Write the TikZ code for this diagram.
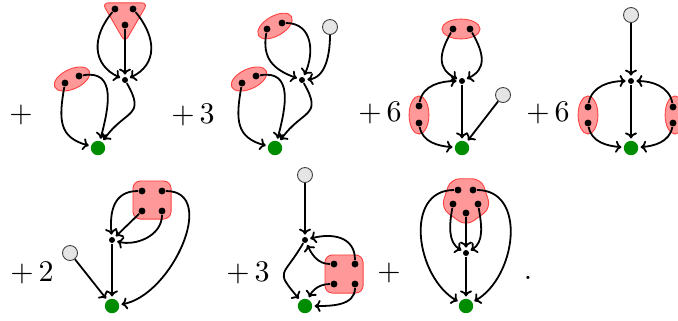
\documentclass[tikz,border=0pt]{standalone}
\usepackage{amsmath,amssymb}
\usepackage{xcolor}
\usepackage{tikz}
\usetikzlibrary{shapes,arrows.meta,positioning}

\begin{document}
\begin{tikzpicture}[
    x=0.33333pt, y=-0.33333pt,
    vtx/.style={circle, fill=black, inner sep=0pt, minimum size=2.3pt},
    hub/.style={circle, fill=black, inner sep=0pt, minimum size=2pt},
    root/.style={circle, fill=green!55!black, inner sep=0pt, minimum size=4.8pt},
    ext/.style={circle, draw=black!75, fill=black!10, line width=0.3pt, inner sep=0pt, minimum size=5pt},
    blob/.style={draw=red!75, fill=red!40, line width=0.3pt, inner sep=0pt},
    oval/.style={blob, ellipse, minimum width=12.7pt, minimum height=6.6pt},
    arrow/.style={-{To[length=2pt,width=4pt]}, semithick, shorten >=0.6pt}
]
\useasboundingbox (0,0) rectangle (678,320);

% first term
\node[blob, regular polygon, regular polygon sides=3, shape border rotate=180, minimum size=17.5pt, rounded corners=2pt] (tri1) at (125,16) {};
\node[oval, rotate=25] (ell1) at (72,79) {};
\node[vtx] (t1a) at (115,9) {};
\node[vtx] (t1b) at (133,9) {};
\node[vtx] (t1c) at (125,25) {};
\node[vtx] (e1a) at (65,83) {};
\node[vtx] (e1b) at (79,76) {};
\node[hub] (h1) at (125,80) {};
\node[root] (g1) at (98,148) {};
\node (c1) at (21,115) {$+$};

\draw[arrow] (t1a) to[out=230,in=155,looseness=1.25] (h1);
\draw[arrow] (t1b) to[out=-50,in=25,looseness=1.25] (h1);
\draw[arrow] (t1c) -- (h1);
\draw[arrow] (h1) to[out=-60,in=55,looseness=1.6] (g1);
\draw[arrow] (e1a) to[out=260,in=165,looseness=1.3] (g1);
\draw[arrow] (e1b) to[out=10,in=75,looseness=1.3] (g1);

% second term
\node[oval, rotate=30] (ell2a) at (275,26) {};
\node[oval, rotate=25] (ell2b) at (249,79) {};
\node[vtx] (u2a) at (267,29) {};
\node[vtx] (u2b) at (282,23) {};
\node[vtx] (l2a) at (242,83) {};
\node[vtx] (l2b) at (256,76) {};
\node[ext] (x2) at (330,27) {};
\node[hub] (h2) at (302,80) {};
\node[root] (g2) at (275,148) {};
\node (c2) at (193,115) {$+\,3$};

\draw[arrow] (u2a) to[out=260,in=160,looseness=1.2] (h2);
\draw[arrow] (u2b) to[out=0,in=65,looseness=1.2] (h2);
\draw[arrow] (x2) to[out=270,in=5] (h2);
\draw[arrow] (h2) to[out=-60,in=55,looseness=1.6] (g2);
\draw[arrow] (l2a) to[out=260,in=165,looseness=1.3] (g2);
\draw[arrow] (l2b) to[out=10,in=75,looseness=1.3] (g2);

% third term
\node[oval] (ell3a) at (461,29) {};
\node[oval, rotate=90] (ell3b) at (419,115) {};
\node[vtx] (q3a) at (453,29) {};
\node[vtx] (q3b) at (470,29) {};
\node[vtx] (s3a) at (419,106) {};
\node[vtx] (s3b) at (419,123) {};
\node[ext] (x3) at (503,95) {};
\node[hub] (h3) at (462,81) {};
\node[root] (g3) at (462,148) {};
\node (c3) at (380,113) {$+\,6$};

\draw[arrow] (q3a) to[out=240,in=155,looseness=1.3] (h3);
\draw[arrow] (q3b) to[out=-60,in=25,looseness=1.3] (h3);
\draw[arrow] (h3) -- (g3);
\draw[arrow] (s3a) to[out=80,in=180] (h3);
\draw[arrow] (s3b) to[out=280,in=175] (g3);
\draw[arrow] (x3) -- (g3);

% fourth term
\node[oval, rotate=90] (ell4a) at (588,115) {};
\node[oval, rotate=90] (ell4b) at (675,115) {};
\node[vtx] (s4a) at (588,107) {};
\node[vtx] (s4b) at (588,123) {};
\node[vtx] (t4a) at (673,107) {};
\node[vtx] (t4b) at (673,123) {};
\node[ext] (x4) at (631,15) {};
\node[hub] (h4) at (631,81) {};
\node[root] (g4) at (631,148) {};
\node (c4) at (548,113) {$+\,6$};

\draw[arrow] (x4) -- (h4);
\draw[arrow] (h4) -- (g4);
\draw[arrow] (s4a) to[out=80,in=180] (h4);
\draw[arrow] (s4b) to[out=280,in=175] (g4);
\draw[arrow] (t4a) to[out=100,in=0] (h4);
\draw[arrow] (t4b) to[out=260,in=5] (g4);

% fifth term
\node[blob, rectangle, rounded corners=2.5pt, minimum size=12.7pt] (sq5) at (152,200) {};
\node[vtx] (p5a) at (142,191) {};
\node[vtx] (p5b) at (162,191) {};
\node[vtx] (p5c) at (142,211) {};
\node[vtx] (p5d) at (162,211) {};
\node[ext] (x5) at (70,253) {};
\node[hub] (h5) at (112,240) {};
\node[root] (g5) at (112,306) {};
\node (c5) at (32,273) {$+\,2$};

\draw[arrow] (p5a) to[out=180,in=95,looseness=1.2] (h5);
\draw[arrow] (p5c) -- (h5);
\draw[arrow] (p5d) to[out=270,in=-15] (h5);
\draw[arrow] (p5b) to[out=0,in=10,looseness=1.1] (g5);
\draw[arrow] (h5) -- (g5);
\draw[arrow] (x5) -- (g5);

% sixth term
\node[blob, rectangle, rounded corners=2.5pt, minimum size=12.7pt] (sq6) at (344,274) {};
\node[vtx] (p6a) at (334,264) {};
\node[vtx] (p6b) at (355,264) {};
\node[vtx] (p6c) at (334,284) {};
\node[vtx] (p6d) at (355,284) {};
\node[ext] (x6) at (305,175) {};
\node[hub] (h6) at (305,240) {};
\node[root] (g6) at (305,306) {};
\node (c6) at (248,273) {$+\,3$};

\draw[arrow] (x6) -- (h6);
\draw[arrow] (h6) to[out=240,in=130,looseness=1.8] (g6);
\draw[arrow] (p6b) to[out=90,in=15,looseness=1.2] (h6);
\draw[arrow] (p6a) to[out=180,in=-65] (h6);
\draw[arrow] (p6c) to[out=180,in=65] (g6);
\draw[arrow] (p6d) to[out=270,in=0] (g6);

% last term
\node (c7) at (389,273) {$+$};
\node[blob, regular polygon, regular polygon sides=5, shape border rotate=180, minimum size=17.5pt, rounded corners=3pt] (pent7) at (466,200) {};
\node[vtx] (o7a) at (458,190) {};
\node[vtx] (o7b) at (473,190) {};
\node[vtx] (o7c) at (453,204) {};
\node[vtx] (o7d) at (478,204) {};
\node[vtx] (o7e) at (466,213) {};
\node[hub] (h7) at (466,253) {};
\node[root] (g7) at (466,306) {};
\node (c8) at (528,278) {.};

\draw[arrow] (o7a) to[out=180,in=150,looseness=1.15] (g7);
\draw[arrow] (o7b) to[out=0,in=30,looseness=1.15] (g7);
\draw[arrow] (o7c) to[out=260,in=150] (h7);
\draw[arrow] (o7d) to[out=280,in=30] (h7);
\draw[arrow] (o7e) -- (h7);
\draw[arrow] (h7) -- (g7);
\end{tikzpicture}
\end{document}
